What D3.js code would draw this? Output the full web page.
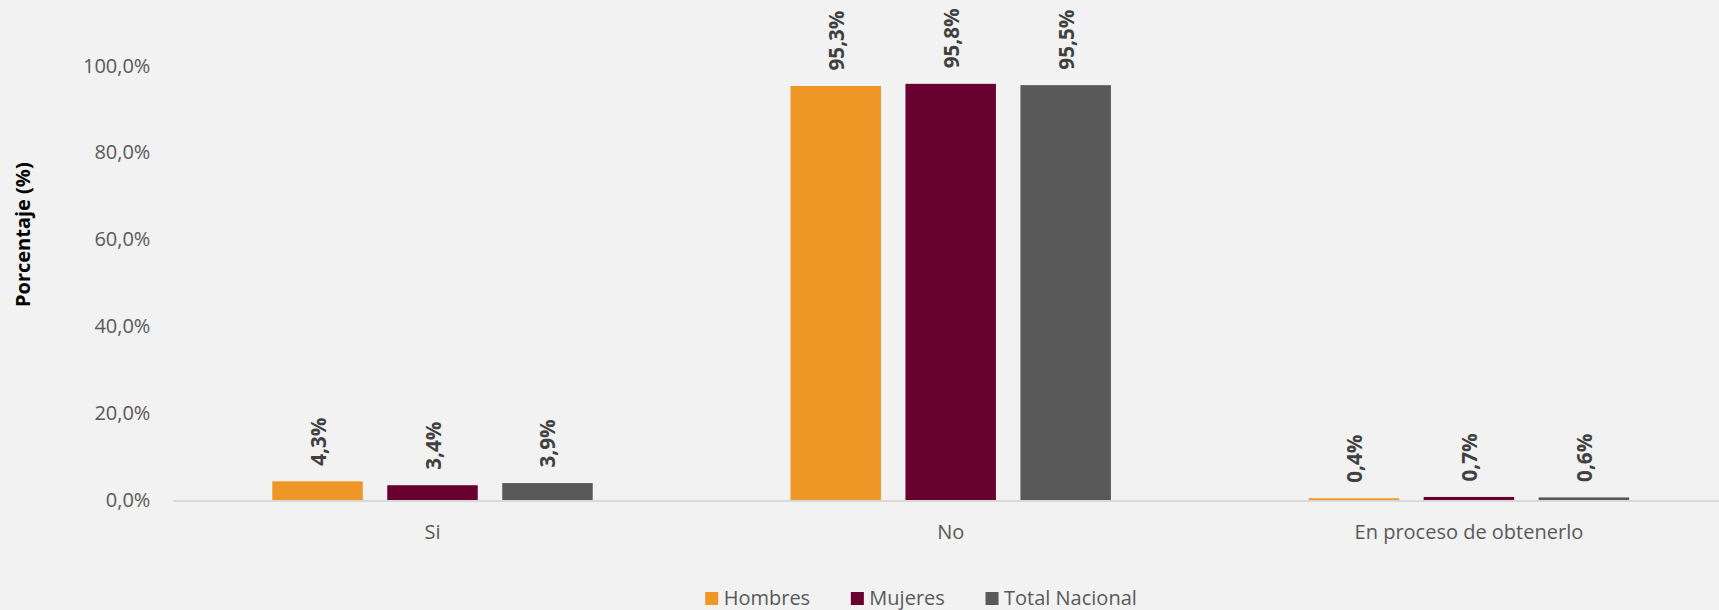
<!DOCTYPE html>
<html>
<head>
<meta charset="utf-8">
<script src="https://cdn.jsdelivr.net/npm/d3@7"></script>
<style>
  html, body { margin: 0; padding: 0; background: #F2F2F2; }
  svg { display: block; font-family: "Open Sans", "Noto Sans", sans-serif; }
</style>
</head>
<body>
<svg id="chart" width="1719" height="610"></svg>
<script>
const categories = ["Si", "No", "En proceso de obtenerlo"];
const seriesNames = ["Hombres", "Mujeres", "Total Nacional"];
const hombres = [4.3, 95.3, 0.4];
const mujeres = [3.4, 95.8, 0.7];
const totalNacional = [3.9, 95.5, 0.6];
const yTicks = [0, 20, 40, 60, 80, 100];
const colors = ["#EE9727", "#680030", "#595959"];

const seriesValues = [hombres, mujeres, totalNacional];
const W = 1719, H = 610;
const svg = d3.select("#chart");
svg.append("rect").attr("width", W).attr("height", H).attr("fill", "#F2F2F2");

const x0 = d3.scaleBand().domain(categories).range([173.4, 1728]).paddingInner(0).paddingOuter(0);
const x1 = d3.scaleBand().domain(seriesNames).range([0, x0.bandwidth()]).paddingInner(0.213).paddingOuter(0.86);
const y = d3.scaleLinear().domain([0, 100]).range([500, 65.6]);

const fmt = v => v.toFixed(1).replace(".", ",");

// y axis tick labels
const yAxis = d3.axisLeft(y).tickValues(yTicks).tickSize(0).tickPadding(23)
  .tickFormat(d => fmt(d) + "%");
const gy = svg.append("g").attr("transform", "translate(173.4,0)").call(yAxis);
gy.select(".domain").remove();
gy.selectAll("text").attr("fill", "#595959").style("font-size", "20px")
  .attr("font-family", "'Open Sans', sans-serif");

// bars
const groups = svg.append("g").selectAll("g").data(categories).join("g")
  .attr("transform", c => `translate(${x0(c)},0)`);
groups.each(function(c, ci) {
  const g = d3.select(this);
  seriesNames.forEach((s, si) => {
    const v = seriesValues[si][ci];
    g.append("rect")
      .attr("x", x1(s)).attr("width", x1.bandwidth())
      .attr("y", y(v)).attr("height", y(0) - y(v))
      .attr("fill", colors[si]);
    const cx = x1(s) + x1.bandwidth() / 2 + 8;
    const ty = y(v) - 15.5;
    g.append("text")
      .attr("transform", `translate(${cx},${ty}) rotate(-90)`)
      .attr("text-anchor", "start")
      .attr("fill", "#404040").style("font-size", "20.7px").style("font-weight", "bold")
      .text(fmt(v) + "%");
  });
});

// x axis line
svg.append("line").attr("x1", x0.range()[0]).attr("x2", x0.range()[1])
  .attr("y1", y(0) + 1).attr("y2", y(0) + 1)
  .attr("stroke", "#D9D9D9").attr("stroke-width", 2);

// x axis labels
const xAxis = d3.axisBottom(x0).tickSize(0).tickPadding(0);
const gx = svg.append("g").attr("transform", "translate(0,539)").call(xAxis);
gx.select(".domain").remove();
gx.selectAll("text").attr("dy", 0).attr("y", 0).attr("fill", "#595959")
  .style("font-size", "20px").attr("font-family", "'Open Sans', sans-serif");

// y axis title
svg.append("text").attr("transform", "translate(30,234.7) rotate(-90)")
  .attr("text-anchor", "middle").attr("fill", "#000")
  .style("font-size", "20px").style("font-weight", "bold")
  .text("Porcentaje (%)");

// legend
const legend = svg.append("g");
let lx = 0;
seriesNames.forEach((s, i) => {
  const it = legend.append("g").attr("transform", `translate(${lx},0)`);
  it.append("rect").attr("x", 0).attr("y", 592).attr("width", 13).attr("height", 13).attr("fill", colors[i]);
  const t = it.append("text").attr("x", 18.5).attr("y", 605).attr("fill", "#595959")
    .style("font-size", "20px").text(s);
  const w = t.node().getComputedTextLength();
  lx += 18.5 + w + 40.7;
});
const totalW = lx - 40.7;
legend.attr("transform", `translate(${921 - totalW / 2},0)`);
</script>
</body>
</html>
